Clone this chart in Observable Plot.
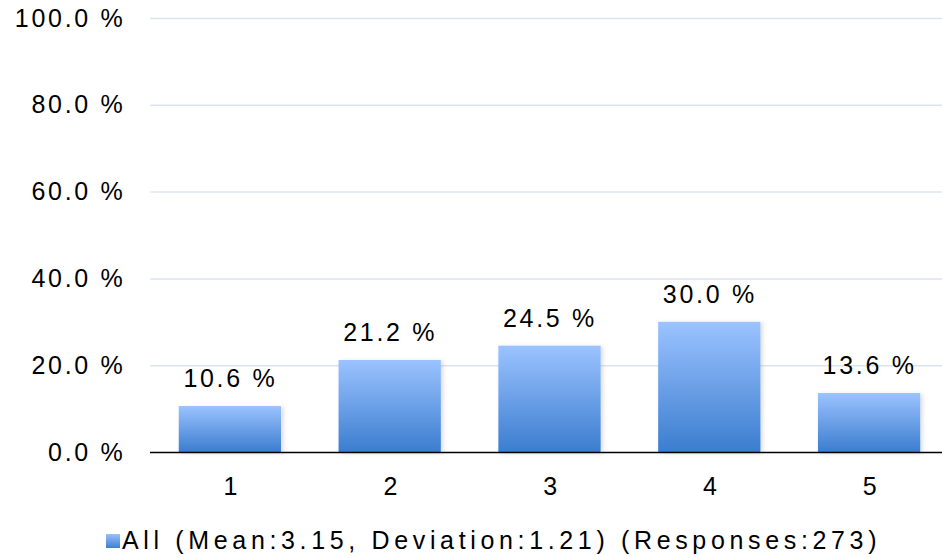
<!DOCTYPE html>
<html><head><meta charset="utf-8">
<script src="https://cdn.jsdelivr.net/npm/d3@7"></script>
<script src="https://cdn.jsdelivr.net/npm/@observablehq/plot@0.6"></script>
<style>
body{margin:0;background:#fff;font-family:"Liberation Sans",Arial,sans-serif;}
#legend{position:absolute;left:106px;top:526px;white-space:nowrap;font-size:25px;letter-spacing:4.65px;color:#000;line-height:28px;}
#legend .sw{display:inline-block;width:14px;height:14px;background:linear-gradient(#99c0fb,#3d7fd0);margin-right:2px;vertical-align:1px;letter-spacing:0;}
</style></head><body>
<div id="chart"></div>
<div id="legend"><span class="sw"></span>All (Mean:3.15, Deviation:1.21) (Responses:273)</div>
<script>
const categories = ["1","2","3","4","5"];
const values = [10.6, 21.2, 24.5, 30.0, 13.6];
const yTicks = [0, 20, 40, 60, 80, 100];
const data = categories.map((c,i)=>({c, v: values[i]}));

const defs = () => {
  const svg = d3.create("svg:defs");
  const g = svg.append("linearGradient").attr("id","barGrad").attr("x1",0).attr("y1",0).attr("x2",0).attr("y2",1);
  g.append("stop").attr("offset","0%").attr("stop-color","#9bc3ff");
  g.append("stop").attr("offset","100%").attr("stop-color","#3b7dcf");
  const f = svg.append("filter").attr("id","shadow").attr("x","-10%").attr("y","-10%").attr("width","130%").attr("height","130%");
  f.append("feDropShadow").attr("dx",2).attr("dy",1).attr("stdDeviation",2).attr("flood-color","#000").attr("flood-opacity",0.15);
  return svg.node();
};

const chart = Plot.plot({
  width: 942,
  height: 500,
  marginTop: 18,
  marginBottom: 48,
  marginLeft: 150,
  marginRight: 0,
  style: {fontFamily: '"Liberation Sans", Arial, sans-serif', fontSize: "25px", letterSpacing: "2.7px", color: "#000", background: "#fff"},
  x: {domain: categories, range: [150, 949], round: false, paddingInner: 0.36, paddingOuter: 0.18, label: null},
  y: {domain: [0, 100], label: null},
  marks: [
    defs,
    Plot.ruleY(yTicks.filter(d=>d>0), {stroke: "#dbe5f1", strokeWidth: 1.5}),
    Plot.barY(data, {x: "c", y: "v", fill: "url(#barGrad)"}),
    Plot.ruleY([0], {stroke: "#000", strokeWidth: 1.5}),
    Plot.text(data, {x: "c", y: "v", text: d => d.v.toFixed(1) + " %", dy: -27, dx: 0, fontSize: 25, fill: "#000"}),
    Plot.axisY({ticks: yTicks, tickFormat: d => d.toFixed(1) + " %", tickSize: 0, tickPadding: 25, fontSize: 25}),
    Plot.axisX({tickSize: 0, tickPadding: 25, fontSize: 25, dx: 1.5})
  ]
});
d3.select(chart).selectAll("[fill='url(#barGrad)'] rect, rect[fill='url(#barGrad)']").attr("filter","url(#shadow)");
document.getElementById("chart").appendChild(chart);
</script>
</body></html>
